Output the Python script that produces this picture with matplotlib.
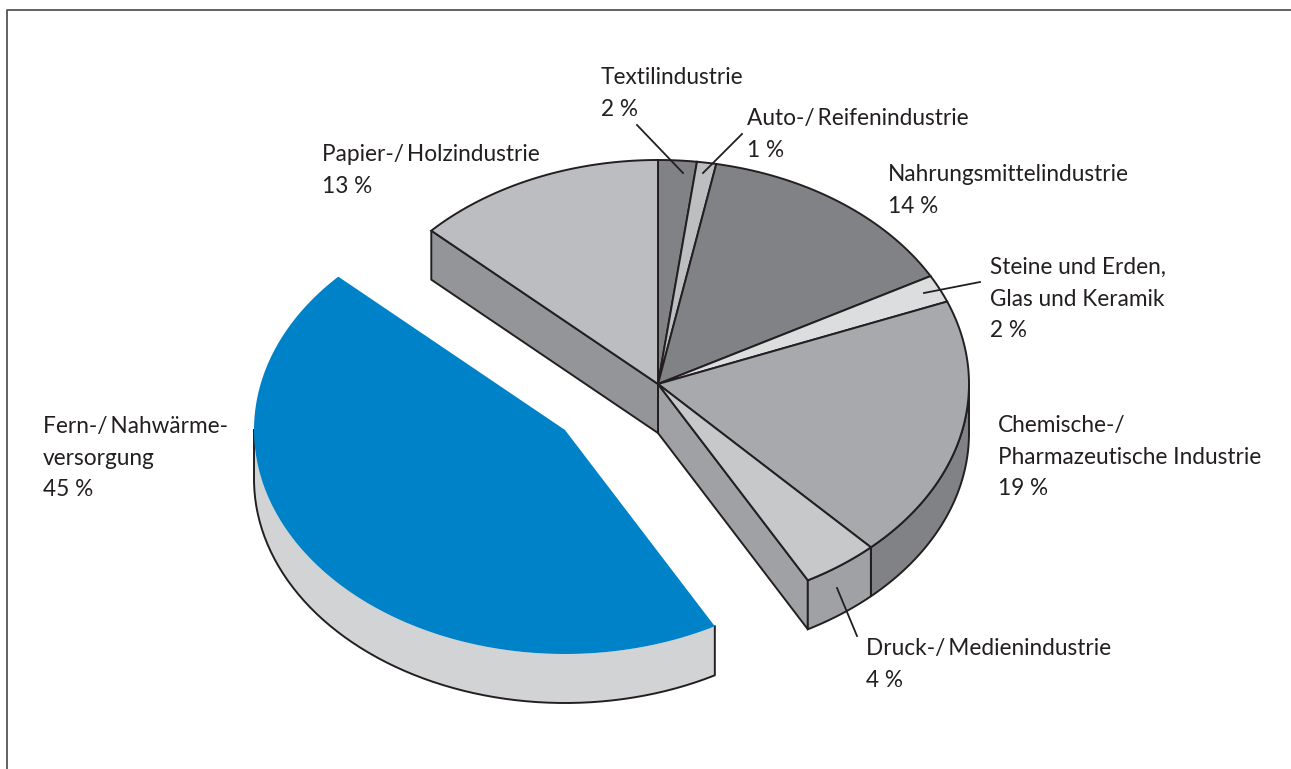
# -*- coding: utf-8 -*-
import numpy as np
import matplotlib
matplotlib.use('Agg')
import matplotlib.pyplot as plt
from matplotlib.patches import Polygon

# clockwise from 12 o'clock
sectors = [['Textilindustrie'], ['Auto-/\u2009Reifenindustrie'], ['Nahrungsmittelindustrie'],
           ['Steine und Erden,', 'Glas und Keramik'], ['Chemische-/', 'Pharmazeutische Industrie'],
           ['Druck-/\u2009Medienindustrie'], ['Fern-/\u2009Nahwärme-', 'versorgung'], ['Papier-/\u2009Holzindustrie']]
shares = [2, 1, 14, 2, 19, 4, 45, 13]
top_colors = ['#808285', '#bcbec0', '#808285', '#dcddde', '#a7a9ac', '#c7c8ca', '#0082c8', '#bcbdc1']
label_pos = [(601, 84), (747, 125), (888, 181), (990, 274), (998, 432), (866, 655), (43, 433), (322, 161)]
leaders = [((637, 125), (683, 173)), ((742, 134), (703, 173)), None, ((980, 282), (924, 293)),
           None, ((837, 588), (857, 636)), None, None]

CX, CY = 658, 384
RX, RY = 311, 224
DEPTH = 49
BLUE_CX, BLUE_CY = 565, 430
LINE_STEP = 31.7
EDGE = '#231f20'

plt.rcParams['font.family'] = ['Lato', 'DejaVu Sans']
fig = plt.figure(figsize=(12.91, 7.69), dpi=100)
ax = fig.add_axes([0, 0, 1, 1])
ax.set_xlim(0, 1291)
ax.set_ylim(769, 0)
ax.axis('off')


def arc(t0, t1, cx, cy, dy=0):
    t = np.radians(np.linspace(t0, t1, 120))
    return np.column_stack([cx + RX * np.sin(t), cy + dy - RY * np.cos(t)])


def wedge(t0, t1, cx, cy, color, ec=EDGE, z=3):
    pts = np.vstack([[cx, cy], arc(t0, t1, cx, cy)])
    ax.add_patch(Polygon(pts, closed=True, fc=color, ec=ec, lw=1.4, joinstyle='miter', zorder=z))


def rim(t0, t1, cx, cy, color, ec=EDGE, z=2):
    pts = np.vstack([arc(t0, t1, cx, cy), arc(t1, t0, cx, cy, DEPTH)])
    ax.add_patch(Polygon(pts, closed=True, fc=color, ec=ec, lw=1.4, joinstyle='miter', zorder=z))


def wall(t, cx, cy, color, z=1):
    # flat cut face going from the centre out to the rim
    p = arc(t, t, cx, cy)[0]
    pts = [(cx, cy), p, (p[0], p[1] + DEPTH), (cx, cy + DEPTH)]
    ax.add_patch(Polygon(pts, closed=True, fc=color, ec=EDGE, lw=1.4, joinstyle='miter', zorder=z))


edges = np.cumsum([0] + shares) * 3.6

# frame, open to the right and bottom
ax.plot([1291, 7, 7], [10, 10, 769], color='#555555', lw=1.3, zorder=0)

# walls and rims
wall(edges[6], CX, CY, '#a0a1a4')
wall(edges[7], CX, CY, '#939598')
rim(90, edges[5], CX, CY, '#808285')
rim(edges[5], edges[6], CX, CY, '#a0a1a4')

# blue slice rim: outline only along the bottom and the two ends
rim(edges[6], 270, BLUE_CX, BLUE_CY, '#d1d3d4', ec='none')
outline = np.vstack([arc(edges[6], edges[6], BLUE_CX, BLUE_CY), arc(edges[6], 270, BLUE_CX, BLUE_CY, DEPTH),
                     arc(270, 270, BLUE_CX, BLUE_CY)])
ax.plot(outline[:, 0], outline[:, 1], color=EDGE, lw=1.4, zorder=2)

# top faces
for i, color in enumerate(top_colors):
    if i == 6:
        wedge(edges[i], edges[i + 1], BLUE_CX, BLUE_CY, color, ec='none')
    else:
        wedge(edges[i], edges[i + 1], CX, CY, color)

# labels
for lines, share, (x, y), leader in zip(sectors, shares, label_pos, leaders):
    for k, line in enumerate(lines + ['%d %%' % share]):
        ax.text(x, y + k * LINE_STEP, line, fontsize=16.3, color=EDGE, va='baseline', ha='left', zorder=6)
    if leader:
        ax.plot(*zip(*leader), color=EDGE, lw=1.3, zorder=5)

fig.savefig('out.png', dpi=100)
